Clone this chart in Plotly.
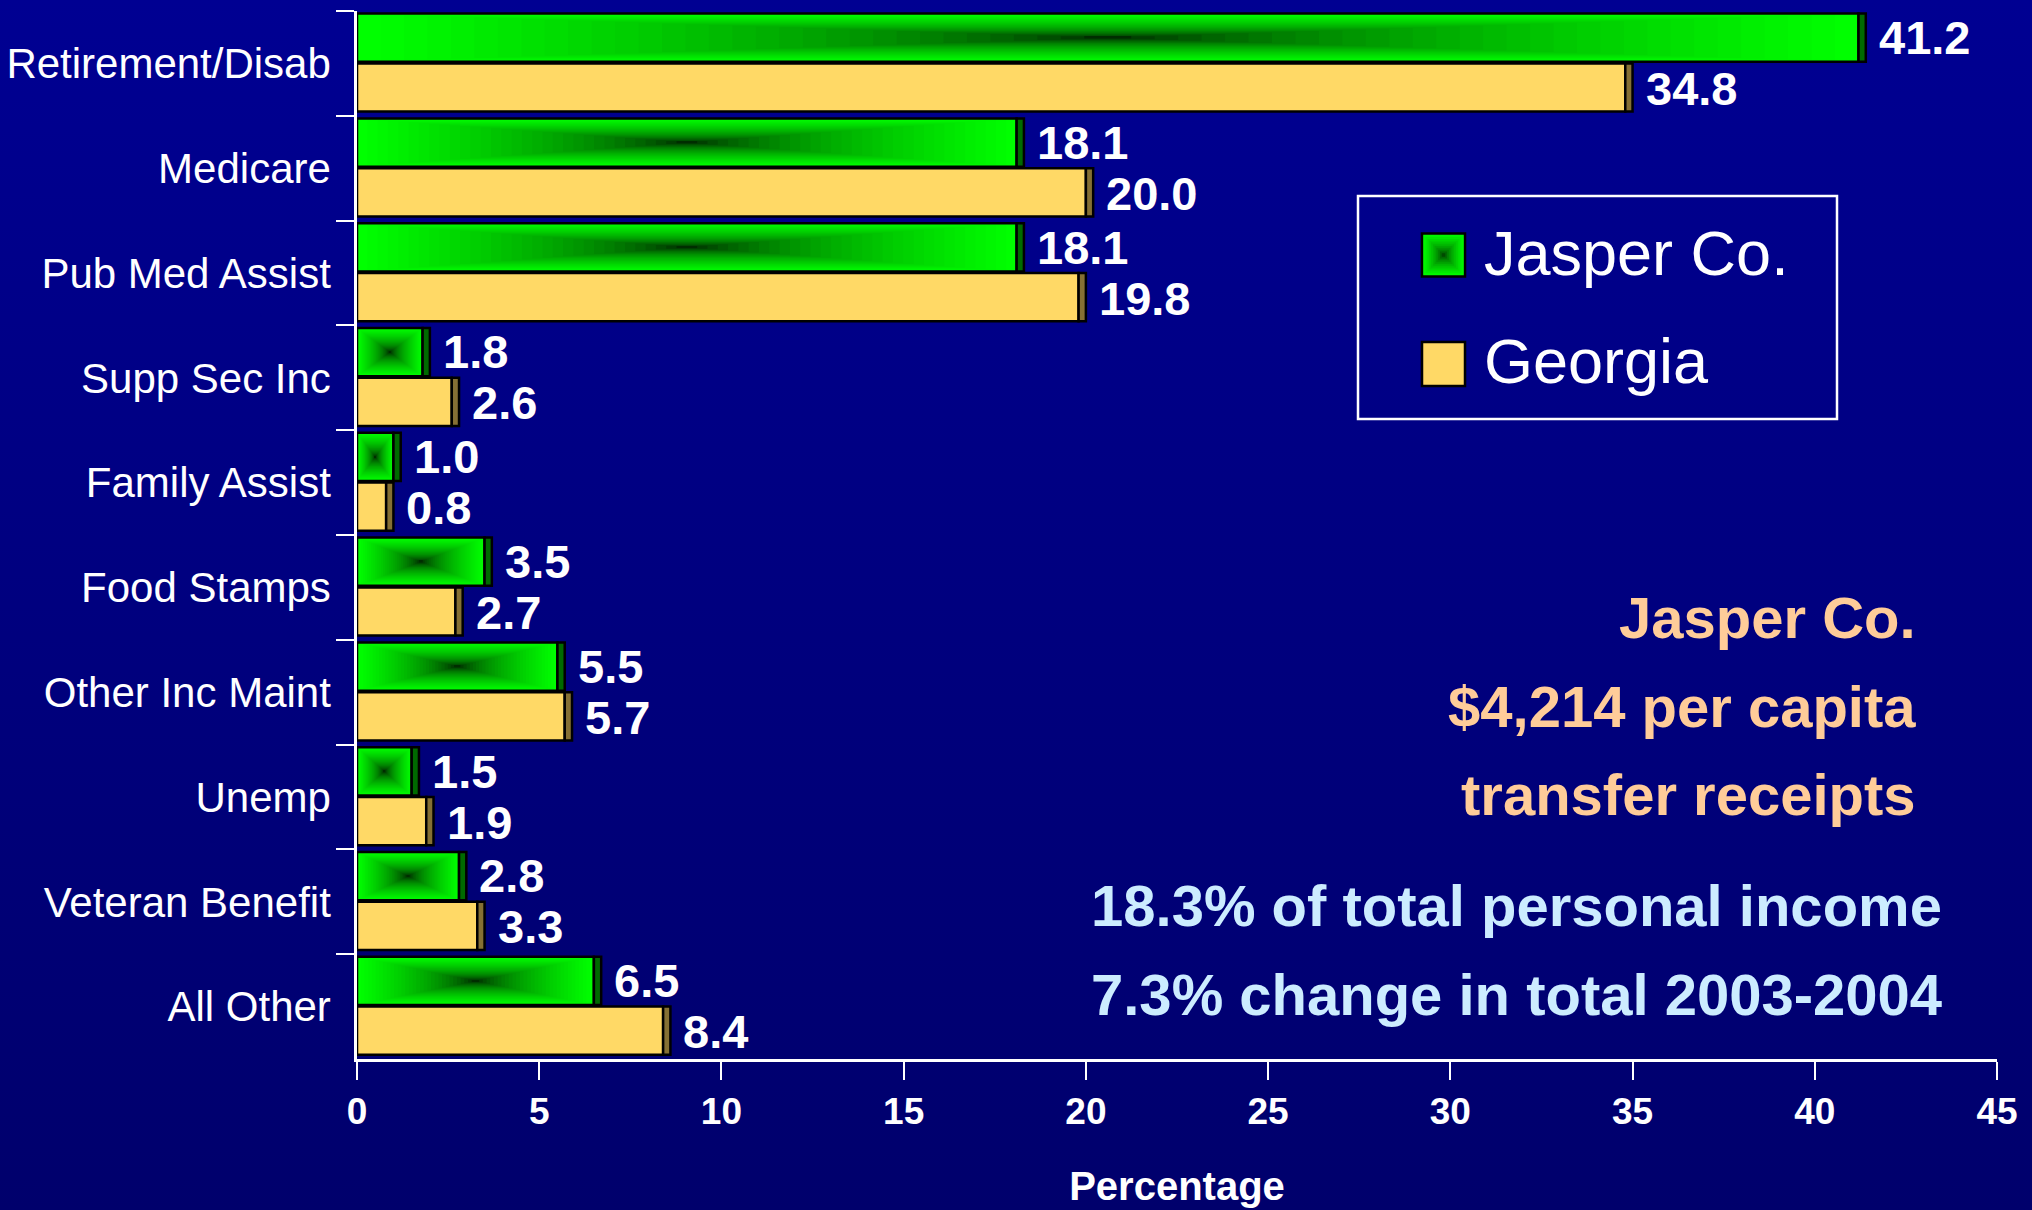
import plotly.graph_objects as go

# ---------------- data ----------------
CATEGORIES = ["Retirement/Disab", "Medicare", "Pub Med Assist", "Supp Sec Inc",
              "Family Assist", "Food Stamps", "Other Inc Maint", "Unemp",
              "Veteran Benefit", "All Other"]
JASPER = [41.2, 18.1, 18.1, 1.8, 1.0, 3.5, 5.5, 1.5, 2.8, 6.5]
GEORGIA = [34.8, 20.0, 19.8, 2.6, 0.8, 2.7, 5.7, 1.9, 3.3, 8.4]
SERIES_NAMES = ["Jasper Co.", "Georgia"]
X_TICKS = [0, 5, 10, 15, 20, 25, 30, 35, 40, 45]
X_TITLE = "Percentage"
NOTE_PEACH = ["Jasper Co.", "$4,214 per capita", "transfer receipts"]
NOTE_BLUE = ["18.3% of total personal income", "7.3% change in total 2003-2004"]

# ---------------- style ----------------
W, H = 2032, 1210
ML, MR, MT, MB = 357, 35, 11, 151
PW, PH = W - ML - MR, H - MT - MB
FONT = "Liberation Sans, Arial, sans-serif"
YELLOW = "#FFD966"
SLIVER = 0.2
BAR_W = 0.46
J_OFF, G_OFF = -0.475, 0.0
N_LAYERS = 32
BG_TOP, BG_BOTTOM = "#000092", "#00006C"


def px(x):
    return (x - ML) / PW


def py(y):
    return (H - MB - y) / PH


def green_at(t):
    g = int(round(255 * (1 - t) ** 0.5))
    return f"rgb(0,{g},0)"


fig = go.Figure()

# Jasper bars: outer face plus concentric layers forming a path gradient
fig.add_trace(go.Bar(y=CATEGORIES, x=JASPER, orientation="h", name=SERIES_NAMES[0],
                     offset=J_OFF, width=BAR_W, marker=dict(color=green_at(0), line=dict(width=0)),
                     showlegend=False, hoverinfo="x+y"))
for k in range(1, N_LAYERS):
    t = k / N_LAYERS
    w = BAR_W * (1 - t)
    fig.add_trace(go.Bar(y=CATEGORIES, x=[v * (1 - t) for v in JASPER],
                         base=[v * t / 2 for v in JASPER], orientation="h",
                         offset=J_OFF + BAR_W / 2 - w / 2, width=w,
                         marker=dict(color=green_at(t), line=dict(width=0)),
                         showlegend=False, hoverinfo="skip"))
# outline on top
fig.add_trace(go.Bar(y=CATEGORIES, x=JASPER, orientation="h", offset=J_OFF, width=BAR_W,
                     marker=dict(color="rgba(0,0,0,0)", line=dict(color="black", width=2.5)),
                     showlegend=False, hoverinfo="skip"))
# Jasper end sliver
fig.add_trace(go.Bar(y=CATEGORIES, x=[SLIVER] * len(JASPER), base=JASPER, orientation="h",
                     offset=J_OFF, width=BAR_W,
                     marker=dict(color="#006A00", line=dict(color="black", width=2.5)),
                     showlegend=False, hoverinfo="skip"))

# Georgia bars
fig.add_trace(go.Bar(y=CATEGORIES, x=GEORGIA, orientation="h", name=SERIES_NAMES[1],
                     offset=G_OFF, width=BAR_W,
                     marker=dict(color=YELLOW, line=dict(color="black", width=2.5)),
                     showlegend=False, hoverinfo="x+y"))
fig.add_trace(go.Bar(y=CATEGORIES, x=[SLIVER] * len(GEORGIA), base=GEORGIA, orientation="h",
                     offset=G_OFF, width=BAR_W,
                     marker=dict(color="#857034", line=dict(color="black", width=2.5)),
                     showlegend=False, hoverinfo="skip"))

annotations = []
# value labels
for vals, ysh in ((JASPER, 26), (GEORGIA, -25)):
    for cat, v in zip(CATEGORIES, vals):
        annotations.append(dict(x=v + SLIVER, y=cat, xref="x", yref="y", text=f"{v:.1f}",
                                showarrow=False, xanchor="left", yanchor="middle",
                                xshift=11, yshift=ysh,
                                font=dict(family=FONT, size=47, color="white", weight="bold")))

# right-hand notes
for i, txt in enumerate(NOTE_PEACH):
    annotations.append(dict(x=px(1918), y=py(618 + i * 88), xref="paper", yref="paper",
                            text=txt, showarrow=False, xanchor="right", yanchor="middle",
                            font=dict(family=FONT, size=58, color="#FFCC99", weight="bold")))
for i, txt in enumerate(NOTE_BLUE):
    annotations.append(dict(x=px(1944), y=py(906 + i * 88), xref="paper", yref="paper",
                            text=txt, showarrow=False, xanchor="right", yanchor="middle",
                            font=dict(family=FONT, size=58, color="#CCECFF", weight="bold")))

shapes = []
# custom legend
shapes.append(dict(type="rect", xref="paper", yref="paper", x0=px(1358), x1=px(1837),
                   y0=py(196), y1=py(419), line=dict(color="white", width=2.5)))
cx, cy, half = 1443.5, 255, 21.5
for k in range(12):
    t = k / 12
    hh = half * (1 - t)
    shapes.append(dict(type="rect", xref="paper", yref="paper",
                       x0=px(cx - hh), x1=px(cx + hh), y0=py(cy + hh), y1=py(cy - hh),
                       fillcolor=green_at(t),
                       line=dict(color="black", width=2.5 if k == 0 else 0)))
shapes.append(dict(type="rect", xref="paper", yref="paper",
                   x0=px(1422), x1=px(1465), y0=py(386), y1=py(342),
                   fillcolor=YELLOW, line=dict(color="black", width=2.5)))
for name, yc in zip(SERIES_NAMES, (253, 361)):
    annotations.append(dict(x=px(1482), y=py(yc), xref="paper", yref="paper", text=name,
                            showarrow=False, xanchor="left", yanchor="middle",
                            font=dict(family=FONT, size=63, color="white")))

fig.update_layout(
    width=W, height=H, barmode="overlay",
    margin=dict(l=ML, r=MR, t=MT, b=MB, autoexpand=False),
    paper_bgcolor="rgba(0,0,0,0)", plot_bgcolor="rgba(0,0,0,0)",
    showlegend=False, annotations=annotations, shapes=shapes,
    xaxis=dict(range=[0, 45], tickvals=X_TICKS, ticktext=[str(t) for t in X_TICKS],
               showgrid=False, zeroline=False, showline=True, linecolor="white", linewidth=2.5,
               ticks="outside", ticklen=18, tickwidth=2, tickcolor="white",
               ticklabelstandoff=0,
               tickfont=dict(family=FONT, size=37, color="white", weight="bold"),
               title=dict(text=X_TITLE, standoff=41,
                          font=dict(family=FONT, size=40, color="white", weight="bold"))),
    yaxis=dict(type="category", categoryorder="array", categoryarray=CATEGORIES,
               range=[len(CATEGORIES) - 0.5, -0.5],
               showgrid=False, zeroline=False, showline=True, linecolor="white", linewidth=2.5,
               ticks="outside", tickson="boundaries", ticklen=18, tickwidth=2, tickcolor="white",
               ticklabelstandoff=15,
               tickfont=dict(family=FONT, size=42, color="white")),
)

page_bg = (
    "document.documentElement.style.margin='0';"
    "document.body.style.margin='0';"
    f"var g='linear-gradient(to bottom, {BG_TOP}, {BG_BOTTOM})';"
    "document.documentElement.style.background='" + BG_BOTTOM + "';"
    "document.body.style.background=g;"
    f"document.body.style.minHeight='{H}px';"
)
fig.write_html("out.html", config={"displayModeBar": False}, post_script=page_bg)
